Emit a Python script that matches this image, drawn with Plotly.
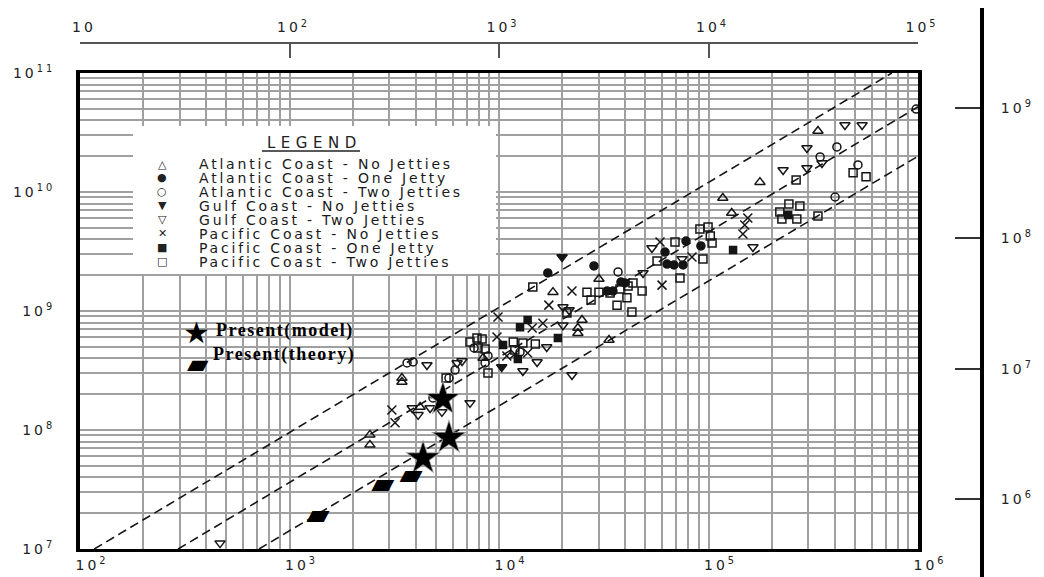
import plotly.graph_objects as go

# ---------------- data (x = bottom axis, y = left axis) ----------------
atl_no_x = [3.33e5, 1.76e5, 1.17e5, 1.29e5, 3.0e4, 1.81e4, 2.49e4, 2.38e4, 2.38e4, 3.35e4,
            8.39e3, 3.44e3, 3.44e3, 4.2e3, 2.42e3, 2.42e3]
atl_no_y = [3.26e10, 1.21e10, 8.91e9, 6.66e9, 1.86e9, 1.44e9, 8.4e8, 7.2e8, 6.5e8, 5.71e8,
            4.03e8, 2.73e8, 2.53e8, 1.56e8, 9.1e7, 7.5e7]

atl_one_x = [9.2e4, 7.81e4, 6.2e4, 6.34e4, 6.84e4, 7.56e4, 3.99e4, 3.5e4, 2.84e4, 1.71e4, 3.28e4, 3.82e4]
atl_one_y = [3.52e9, 3.87e9, 3.13e9, 2.48e9, 2.44e9, 2.44e9, 1.72e9, 1.47e9, 2.39e9, 2.09e9, 1.47e9, 1.75e9]

atl_two_x = [9.8e5, 4.1e5, 5.17e5, 3.41e5, 4.02e5, 3.7e4, 3.64e3, 3.89e3, 6.17e3, 5.77e3,
             4.84e3, 7.6e3, 8.58e3, 8.86e3, 1.26e4]
atl_two_y = [4.98e10, 2.39e10, 1.69e10, 1.97e10, 9.08e9, 2.13e9, 3.66e8, 3.73e8, 3.19e8, 2.73e8,
             1.86e8, 4.89e8, 3.66e8, 4.19e8, 4.52e8]

gulf_no_x = [2.0e4, 1.03e4]
gulf_no_y = [2.84e9, 3.38e8]

gulf_two_x = [4.48e5, 5.41e5, 2.95e5, 2.27e5, 2.95e5, 3.48e5, 1.63e5, 5.37e4, 4.87e4, 7.48e4,
              2.02e4, 2.16e4, 2.02e4, 2.23e4, 4.53e3, 6.66e3, 6.31e3, 7.27e3, 3.85e3, 4.11e3,
              4.69e3, 5.34e3, 1.3e4, 1.52e4, 1.69e4, 466]
gulf_two_y = [3.66e10, 3.66e10, 2.34e10, 1.53e10, 1.59e10, 1.75e10, 3.45e9, 3.38e9, 2.09e9, 2.74e9,
              1.08e9, 1.02e9, 7.6e8, 2.9e8, 3.52e8, 3.8e8, 3.66e8, 1.69e8, 1.53e8, 1.34e8,
              1.53e8, 1.42e8, 3.13e8, 3.73e8, 4.98e8, 1.12e7]

pac_no_x = [1.54e5, 1.49e5, 1.46e5, 5.87e4, 8.34e4, 6.0e4, 2.23e4, 1.73e4, 9.89e3, 9.78e3,
            1.09e4, 1.19e4, 1.44e4, 1.62e4, 3.08e3, 3.19e3, 1.37e4]
pac_no_y = [6.05e9, 5.28e9, 4.44e9, 3.8e9, 2.84e9, 1.65e9, 1.47e9, 1.12e9, 8.9e8, 6.05e8,
            4.19e8, 4.35e8, 7.2e8, 7.9e8, 1.47e8, 1.15e8, 4.43e8]

pac_one_x = [1.31e5, 2.4e5, 1.045e4, 1.23e4, 1.37e4, 1.26e4, 1.91e4]
pac_one_y = [3.26e9, 6.41e9, 5.18e8, 3.95e8, 8.4e8, 7.3e8, 5.93e8]

pac_two_x = [2.62e5, 4.9e5, 5.65e5, 2.42e5, 2.73e5, 2.19e5, 2.24e5, 2.64e5, 3.33e5, 9.1e4,
             9.95e4, 1.02e5, 1.04e5, 6.92e4, 5.68e4, 9.41e4, 7.31e4, 4.82e4, 4.36e4, 1.45e4,
             2.63e4, 3.0e4, 3.78e4, 4.13e4, 2.75e4, 4.08e4, 3.66e4, 4.31e4, 2.11e4, 8.3e3,
             8.58e3, 8.86e3, 1.17e4, 1.3e4, 1.49e4, 7.85e3, 7.27e3, 7.94e3, 1.19e4, 5.59e3, 3.39e4]
pac_two_y = [1.26e10, 1.45e10, 1.34e10, 7.93e9, 7.63e9, 6.79e9, 5.93e9, 5.93e9, 6.29e9, 4.89e9,
             5.08e9, 4.27e9, 3.73e9, 3.8e9, 2.63e9, 2.74e9, 1.89e9, 1.47e9, 1.72e9, 1.59e9,
             1.44e9, 1.44e9, 1.53e9, 1.62e9, 1.24e9, 1.29e9, 1.12e9, 9.8e8, 9.6e8, 5.82e8,
             4.8e8, 3.01e8, 5.48e8, 5.38e8, 5.28e8, 5.93e8, 5.48e8, 4.89e8, 4.7e8, 2.73e8, 1.42e9]

model_x = [5.4e3, 5.77e3, 4.34e3]
model_y = [1.82e8, 8.6e7, 5.8e7]
theory_x = [1.37e3, 2.79e3, 3.8e3]
theory_y = [1.86e7, 3.45e7, 4.1e7]

# envelope lines (end points)
lineA_x = [117, 7.5e5]
lineA_y = [1e7, 1e11]
lineB_x = [294, 1e6]
lineB_y = [1e7, 5.2e10]
lineC_x = [715, 1e6]
lineC_y = [1e7, 2.0e10]

legend_labels = ["Atlantic Coast - No Jetties", "Atlantic Coast - One Jetty",
                 "Atlantic Coast - Two Jetties", "Gulf Coast - No Jetties",
                 "Gulf Coast - Two Jetties", "Pacific Coast - No Jetties",
                 "Pacific Coast - One Jetty", "Pacific Coast - Two Jetties"]
legend_glyphs = ["△", "●", "○", "▼", "▽", "✕", "■", "□"]

bottom_vals = [1e2, 1e3, 1e4, 1e5, 1e6]
bottom_exp = ["2", "3", "4", "5", "6"]
top_vals = [10, 1e2, 1e3, 1e4, 1e5]
top_exp = ["", "2", "3", "4", "5"]
left_vals = [1e7, 1e8, 1e9, 1e10, 1e11]
left_exp = ["7", "8", "9", "10", "11"]
right_vals = [1e6, 1e7, 1e8, 1e9]
right_exp = ["6", "7", "8", "9"]

# ---------------- layout helpers ----------------
# the page body has an 8px margin, so the figure is drawn 8px smaller and
# positions below are given in page pixels
OFF = 8
W, H = 1044 - OFF, 577 - OFF
ML, MR, MT, MB = 80 - OFF, 0, 0, 0
PW, PH = W - ML - MR, H - MT - MB


def px(xp):
    return (xp - OFF - ML) / PW


def py(yp):
    return (H - MB - (yp - OFF)) / PH


def stretch(text, sp):
    return f'<span style="letter-spacing:{sp}px">{text}</span>'


def pow_label(e, sp=3):
    return stretch("10" + (f"<sup>{e}</sup>" if e else ""), sp)


INK = "#151515"
GRID = "#a0a0a0"

fig = go.Figure()

for lx, ly in [(lineA_x, lineA_y), (lineB_x, lineB_y), (lineC_x, lineC_y)]:
    fig.add_trace(go.Scatter(x=lx, y=ly, mode="lines",
                             line=dict(color=INK, width=1.6, dash="9px,5px"),
                             hoverinfo="skip"))

series = [
    (atl_no_x, atl_no_y, "triangle-up-open", 9),
    (atl_one_x, atl_one_y, "circle", 8),
    (atl_two_x, atl_two_y, "circle-open", 8),
    (gulf_no_x, gulf_no_y, "triangle-down", 9),
    (gulf_two_x, gulf_two_y, "triangle-down-open", 9),
    (pac_no_x, pac_no_y, "x-thin", 9),
    (pac_one_x, pac_one_y, "square", 7),
    (pac_two_x, pac_two_y, "square-open", 8),
]
for (sx, sy, sym, sz), name in zip(series, legend_labels):
    fig.add_trace(go.Scatter(x=sx, y=sy, mode="markers", name=name,
                             marker=dict(symbol=sym, size=sz, color=INK,
                                         line=dict(color=INK, width=1.5)),
                             cliponaxis=False))

# Present (model): star with soft grey shadow
fig.add_trace(go.Scatter(x=model_x, y=model_y, mode="markers", name="Present(model) shadow",
                         marker=dict(symbol="star", size=27, color="#9a9a9a", line=dict(width=0))))
fig.add_trace(go.Scatter(x=model_x, y=model_y, mode="markers", name="Present(model)",
                         marker=dict(symbol="star", size=23, color="black", line=dict(width=0))))
# Present (theory): parallelogram glyph
fig.add_trace(go.Scatter(x=theory_x, y=theory_y, mode="text", name="Present(theory)",
                         text=["▰"] * len(theory_x), textposition="middle center",
                         textfont=dict(family="DejaVu Sans", size=30, color="black")))

# helper traces so the secondary axes are drawn
fig.add_trace(go.Scatter(x=[None], y=[None], xaxis="x2", yaxis="y", hoverinfo="skip"))
fig.add_trace(go.Scatter(x=[None], y=[None], xaxis="x3", yaxis="y3", hoverinfo="skip"))

tickfont = dict(family="DejaVu Sans", size=14, color="#222")
grid = dict(showgrid=True, gridcolor=GRID, gridwidth=1.5,
            minor=dict(dtick="D1", showgrid=True, gridcolor=GRID, gridwidth=1.5, ticks=""))

fig.update_layout(
    width=W, height=H, template="none",
    margin=dict(l=ML, r=MR, t=MT, b=MB, autoexpand=False),
    paper_bgcolor="white", plot_bgcolor="white", showlegend=False,
    font=dict(family="DejaVu Sans", size=13, color="#222"),
    xaxis=dict(type="log", range=[2, 6], domain=[0, px(918)], anchor="y",
               showline=True, linecolor="black", linewidth=3, mirror=True,
               ticks="", tickmode="array", tickvals=bottom_vals,
               ticktext=[pow_label(e) for e in bottom_exp], tickfont=tickfont,
               ticklabelshift=12, ticklabelstandoff=1, zeroline=False, automargin=False, **grid),
    yaxis=dict(type="log", range=[7, 11], domain=[py(549), py(73)], anchor="x",
               showline=True, linecolor="black", linewidth=4, mirror=True,
               ticks="", tickmode="array", tickvals=left_vals,
               ticktext=[pow_label(e) for e in left_exp], tickfont=tickfont,
               ticklabelstandoff=18, zeroline=False, automargin=False, **grid),
    xaxis2=dict(type="log", range=[1, 5], overlaying="x", anchor="free", position=py(43),
                side="top", showline=True, linecolor="#555", linewidth=2,
                ticks="inside", ticklen=14, tickwidth=2, tickcolor="#555",
                tickmode="array", tickvals=top_vals,
                ticktext=[pow_label(e) for e in top_exp], tickfont=tickfont,
                ticklabelshift=4, ticklabelstandoff=4, showgrid=False, zeroline=False,
                automargin=False),
    xaxis3=dict(domain=[0.9, 1.0], anchor="y3", visible=False, range=[0, 1]),
    yaxis3=dict(type="log", range=[5.404, 9.767], domain=[0, 1], anchor="free",
                position=px(982), side="right", showline=True, linecolor="black",
                linewidth=4, ticks="inside", ticklen=25, tickwidth=1.5, tickcolor="#333",
                tickmode="array", tickvals=right_vals,
                ticktext=[pow_label(e) for e in right_exp], tickfont=tickfont,
                ticklabelstandoff=14, showgrid=False, zeroline=False, automargin=False),
)

# legend box (drawn by hand to match the scanned layout)
shapes = [
    dict(type="rect", xref="paper", yref="paper", x0=px(133), x1=px(496), y0=py(274), y1=py(126),
         fillcolor="white", line=dict(width=0), layer="above"),
    dict(type="line", xref="paper", yref="paper", x0=px(262), x1=px(360), y0=py(151), y1=py(151),
         line=dict(color="#222", width=1.5), layer="above"),
]
fig.update_layout(shapes=shapes)

ann = [dict(text=stretch("LEGEND", 5.5), x=px(314), y=py(143), xref="paper", yref="paper",
            showarrow=False, xanchor="center", yanchor="middle",
            font=dict(family="DejaVu Sans", size=15, color="#222"))]
row0, step = 164.0, 13.95
for i, (lab, g) in enumerate(zip(legend_labels, legend_glyphs)):
    yy = py(row0 + i * step)
    ann.append(dict(text=g, x=px(162), y=yy, xref="paper", yref="paper", showarrow=False,
                    xanchor="center", yanchor="middle",
                    font=dict(family="DejaVu Sans", size=11, color="#222")))
    ann.append(dict(text=stretch(lab, 2.8), x=px(197), y=yy, xref="paper", yref="paper",
                    showarrow=False, xanchor="left", yanchor="middle",
                    font=dict(family="DejaVu Sans", size=14, color="#1a1a1a")))

ann += [
    dict(text="★", x=px(196), y=py(332), xref="paper", yref="paper", showarrow=False,
         xanchor="center", yanchor="middle", font=dict(family="DejaVu Sans", size=30, color="black")),
    dict(text="▰", x=px(198), y=py(363), xref="paper", yref="paper", showarrow=False,
         xanchor="center", yanchor="middle", font=dict(family="DejaVu Sans", size=28, color="black")),
    dict(text=stretch("<b>Present(model)</b>", 1.5), x=px(214), y=py(330), xref="paper",
         yref="paper", showarrow=False, xanchor="left", yanchor="middle",
         font=dict(family="Liberation Serif", size=18, color="black")),
    dict(text=stretch("<b>Present(theory)</b>", 1.5), x=px(211), y=py(355), xref="paper",
         yref="paper", showarrow=False, xanchor="left", yanchor="middle",
         font=dict(family="Liberation Serif", size=18, color="black")),
]
fig.update_layout(annotations=ann)

fig.write_html("out.html")
